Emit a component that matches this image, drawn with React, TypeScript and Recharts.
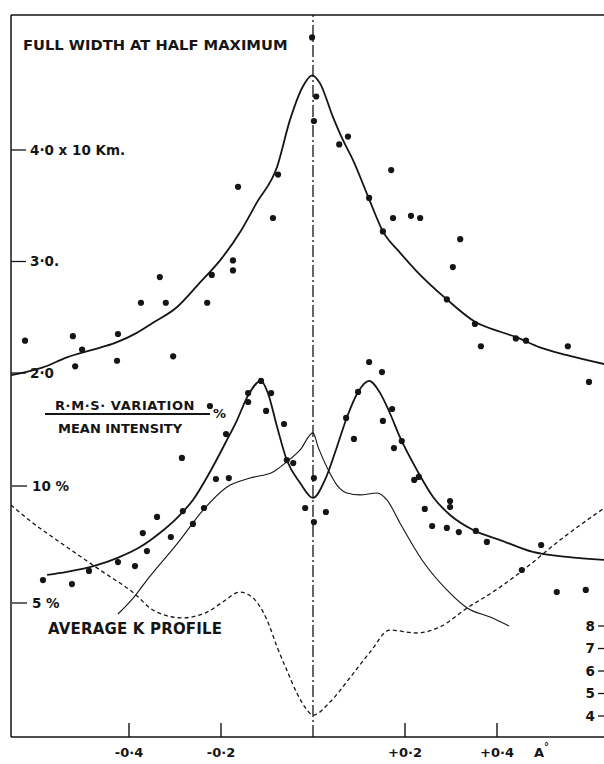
import React from 'react';
import { ComposedChart, Line, Scatter, XAxis, YAxis, ReferenceLine } from 'recharts';

// ---------- axis ticks ----------
const xTicks = [-0.4, -0.2, 0.2, 0.4];
const xTickLabels = ['-0·4', '-0·2', '+0·2', '+0·4'];
const fwhmTicks = [2, 3, 4];
const fwhmTickLabels = ['2·0', '3·0.', '4·0 x 10 Km.'];
const rmsTicks = [5, 10];
const rmsTickLabels = ['5 %', '10 %'];
const kTicks = [4, 5, 6, 7, 8];
const kTickLabels = ['4', '5', '6', '7', '8'];

// ---------- data: [wavelength offset (A), value] ----------
const fwhmCurve = [
  [-0.656, 1.98], [-0.587, 2.05], [-0.535, 2.14], [-0.478, 2.21], [-0.43, 2.27], [-0.383, 2.36],
  [-0.348, 2.45], [-0.296, 2.59], [-0.246, 2.81], [-0.202, 3.01], [-0.159, 3.26], [-0.122, 3.53],
  [-0.078, 3.85], [-0.05, 4.27], [-0.022, 4.57], [-0.002, 4.67], [0.015, 4.6], [0.043, 4.3],
  [0.065, 4.09], [0.087, 3.91], [0.12, 3.58], [0.152, 3.27], [0.189, 3.08], [0.226, 2.91],
  [0.291, 2.66], [0.352, 2.46], [0.407, 2.37], [0.443, 2.32], [0.493, 2.23], [0.552, 2.16], [0.633, 2.08],
];
const fwhmDots = [
  [-0.002, 5.01], [0.007, 4.48], [0.002, 4.26], [-0.076, 3.78], [-0.163, 3.67], [0.057, 4.05],
  [0.076, 4.12], [0.17, 3.82], [0.122, 3.57], [-0.087, 3.39], [-0.174, 3.01], [-0.174, 2.92],
  [-0.22, 2.88], [-0.23, 2.63], [-0.333, 2.86], [-0.374, 2.63], [-0.32, 2.63], [-0.304, 2.15],
  [-0.424, 2.35], [-0.426, 2.11], [-0.502, 2.21], [-0.522, 2.33], [-0.517, 2.06], [-0.626, 2.29],
  [0.174, 3.39], [0.213, 3.41], [0.233, 3.39], [0.152, 3.27], [0.32, 3.2], [0.304, 2.95],
  [0.291, 2.66], [0.352, 2.44], [0.365, 2.24], [0.441, 2.31], [0.463, 2.29], [0.554, 2.24], [0.6, 1.92],
];
const rmsCurve = [
  [-0.578, 6.2], [-0.535, 6.33], [-0.47, 6.62], [-0.426, 6.92], [-0.376, 7.39], [-0.333, 7.99],
  [-0.296, 8.63], [-0.261, 9.4], [-0.224, 10.6], [-0.187, 11.97], [-0.165, 12.82], [-0.143, 13.8],
  [-0.113, 14.49], [-0.098, 13.97], [-0.078, 12.52], [-0.057, 11.11], [-0.028, 10.13], [0, 9.49],
  [0.026, 10.26], [0.052, 11.67], [0.074, 12.95], [0.098, 14.02], [0.122, 14.49], [0.146, 13.97],
  [0.167, 13.12], [0.189, 12.09], [0.226, 10.68], [0.261, 9.53], [0.298, 8.76], [0.348, 8.12],
  [0.407, 7.69], [0.478, 7.18], [0.552, 6.97], [0.633, 6.84],
];
const rmsDots = [
  [-0.587, 5.98], [-0.524, 5.81], [-0.487, 6.37], [-0.424, 6.75], [-0.387, 6.58], [-0.37, 7.99],
  [-0.361, 7.22], [-0.339, 8.68], [-0.309, 7.82], [-0.283, 8.93], [-0.261, 8.38], [-0.237, 9.06],
  [-0.285, 11.2], [-0.211, 10.3], [-0.183, 10.34], [-0.189, 12.22], [-0.224, 13.42], [-0.141, 13.97],
  [-0.141, 13.59], [-0.113, 14.49], [-0.091, 13.97], [-0.102, 13.21], [-0.063, 12.65], [-0.057, 11.11],
  [-0.043, 10.98], [0.002, 10.34], [-0.017, 9.06], [0.028, 8.89], [0.002, 8.46], [0.072, 12.91],
  [0.089, 12.01], [0.098, 14.02], [0.122, 15.3], [0.15, 14.87], [0.172, 13.29], [0.152, 12.78],
  [0.176, 11.62], [0.193, 11.92], [0.22, 10.26], [0.23, 10.39], [0.243, 9.02], [0.259, 8.29],
  [0.291, 8.21], [0.298, 9.36], [0.298, 9.1], [0.317, 8.03], [0.354, 8.08], [0.378, 7.61],
  [0.496, 7.48], [0.454, 6.41], [0.53, 5.47], [0.593, 5.56],
];
const kProfileLine = [
  [-0.424, 4.53], [-0.391, 5.21], [-0.361, 5.98], [-0.289, 7.69], [-0.239, 8.97], [-0.187, 9.96],
  [-0.137, 10.34], [-0.087, 10.6], [-0.057, 11.03], [-0.028, 11.54], [0, 12.27], [0.011, 11.67],
  [0.03, 10.81], [0.052, 10.04], [0.074, 9.7], [0.102, 9.62], [0.139, 9.7], [0.161, 9.4],
  [0.189, 8.42], [0.237, 6.84], [0.291, 5.56], [0.335, 4.79], [0.385, 4.4], [0.426, 4.02],
];
const dashedProfile = [
  [-0.657, 13.38], [-0.609, 12.58], [-0.535, 11.51], [-0.463, 10.49], [-0.387, 9.42], [-0.348, 8.71],
  [-0.285, 8.36], [-0.23, 8.62], [-0.196, 9.07], [-0.159, 9.51], [-0.13, 9.24], [-0.1, 8.27],
  [-0.078, 7.07], [-0.057, 6.04], [-0.035, 5.02], [-0.013, 4.27], [0, 4.04], [0.037, 4.62],
  [0.08, 5.69], [0.124, 6.84], [0.167, 7.82], [0.226, 7.69], [0.276, 7.96], [0.335, 8.8],
  [0.391, 9.51], [0.454, 10.44], [0.537, 11.82], [0.633, 13.24],
];

const X_MIN = -0.6565;
const X_MAX = 0.6326;
const RIGHT_TICK_START = 0.6196;

const pts = (a: number[][]) => a.map(([x, y]) => ({ x, y }));

const FONT = '"DejaVu Sans", "Liberation Sans", sans-serif';
const INK = '#151515';

const LeftTick = (labels: string[], ticks: number[]) => (p: any) => {
  const i = ticks.indexOf(p.payload.value);
  return (
    <text x={p.x} y={p.y} dy="0.36em" textAnchor="start" fontFamily={FONT} fontWeight="bold" fontSize={13.5} fill={INK}>
      {labels[i]}
    </text>
  );
};
const BottomTick = (p: any) => {
  const i = xTicks.indexOf(p.payload.value);
  const last = i === xTicks.length - 1;
  return (
    <g>
      <line x1={p.x} x2={p.x} y1={p.y} y2={p.y - 14} stroke={INK} strokeWidth={1.4} />
      <text x={p.x} y={p.y + 20} textAnchor="middle" fontFamily={FONT} fontWeight="bold" fontSize={13} fill={INK}>
        {xTickLabels[i]}
      </text>
      {last && (
        <text x={p.x + 37} y={p.y + 20} textAnchor="start" fontFamily={FONT} fontWeight="bold" fontSize={13} fill={INK}>
          A<tspan dy={-7} fontSize={10}>°</tspan>
        </text>
      )}
    </g>
  );
};

const Dot = (p: any) => <circle cx={p.cx} cy={p.cy} r={3.1} fill={INK} />;

const labelStyle = (left: number, top: number, size: number, spacing = 0): React.CSSProperties => ({
  position: 'absolute',
  left,
  top,
  fontFamily: FONT,
  fontWeight: 'bold',
  fontSize: size,
  lineHeight: 1,
  letterSpacing: spacing,
  color: INK,
  whiteSpace: 'nowrap',
  pointerEvents: 'none',
});

const Annotations = () => (
  <>
    <div style={labelStyle(23, 38.1, 14.7)}>FULL WIDTH AT HALF MAXIMUM</div>
    <div style={labelStyle(55, 398.5, 13, 0.6)}>R·M·S· VARIATION</div>
    <div style={{ position: 'absolute', left: 45, top: 413.4, width: 165, height: 1.2, background: INK }} />
    <div style={labelStyle(213, 407, 13)}>%</div>
    <div style={labelStyle(58, 421.5, 13)}>MEAN INTENSITY</div>
    <div style={labelStyle(48, 622.3, 15, 0.18)}>AVERAGE K PROFILE</div>
  </>
);

export default function App() {
  return (
    <div style={{ position: 'absolute', left: 0, top: 0, width: 604, height: 764, background: '#fff', overflow: 'hidden' }}>
      <ComposedChart width={604} height={764} margin={{ top: 15, right: 0, bottom: 0, left: 11 }}>
        <XAxis
          xAxisId="x"
          type="number"
          dataKey="x"
          domain={[X_MIN, X_MAX]}
          allowDataOverflow
          ticks={xTicks}
          interval={0}
          height={27}
          tickSize={0}
          tickMargin={0}
          tickLine={false}
          tick={BottomTick}
          axisLine={{ stroke: INK, strokeWidth: 1.5 }}
        />
        <YAxis
          yAxisId="fwhm"
          orientation="left"
          mirror
          width={1}
          type="number"
          dataKey="y"
          domain={[-1.2646, 5.2108]}
          allowDataOverflow
          ticks={fwhmTicks}
          interval={0}
          tickSize={15}
          tickMargin={4}
          tickLine={{ stroke: INK, strokeWidth: 1.3 }}
          tick={LeftTick(fwhmTickLabels, fwhmTicks)}
          axisLine={{ stroke: INK, strokeWidth: 1.5 }}
        />
        <YAxis
          yAxisId="rms"
          orientation="left"
          mirror
          width={1}
          type="number"
          dataKey="y"
          domain={[-0.726, 30.128]}
          allowDataOverflow
          ticks={rmsTicks}
          interval={0}
          tickSize={15}
          tickMargin={5}
          tickLine={{ stroke: INK, strokeWidth: 1.3 }}
          tick={LeftTick(rmsTickLabels, rmsTicks)}
          axisLine={false}
        />
        <YAxis yAxisId="k" hide type="number" dataKey="y" domain={[3.067, 35.156]} allowDataOverflow />
        <ReferenceLine xAxisId="x" yAxisId="fwhm" y={5.2108} stroke={INK} strokeWidth={1.5} ifOverflow="visible" />
        <ReferenceLine xAxisId="x" yAxisId="fwhm" x={0} stroke={INK} strokeWidth={1.3} strokeDasharray="12 3 2 3" />
        {kTicks.map((v, i) => (
          <ReferenceLine
            key={v}
            xAxisId="x"
            yAxisId="k"
            segment={[{ x: RIGHT_TICK_START, y: v }, { x: X_MAX, y: v }]}
            stroke={INK}
            strokeWidth={1.3}
            ifOverflow="visible"
            label={{ value: kTickLabels[i], position: 'left', offset: 3, fill: INK, fontSize: 13.5, fontWeight: 'bold', fontFamily: FONT }}
          />
        ))}
        <Line xAxisId="x" yAxisId="k" data={pts(dashedProfile)} dataKey="y" type="monotone" stroke={INK} strokeWidth={1.3} strokeDasharray="4 3" dot={false} activeDot={false} isAnimationActive={false} />
        <Line xAxisId="x" yAxisId="rms" data={pts(kProfileLine)} dataKey="y" type="monotone" stroke={INK} strokeWidth={1.1} dot={false} activeDot={false} isAnimationActive={false} />
        <Line xAxisId="x" yAxisId="fwhm" data={pts(fwhmCurve)} dataKey="y" type="monotone" stroke={INK} strokeWidth={1.8} dot={false} activeDot={false} isAnimationActive={false} />
        <Line xAxisId="x" yAxisId="rms" data={pts(rmsCurve)} dataKey="y" type="monotone" stroke={INK} strokeWidth={1.8} dot={false} activeDot={false} isAnimationActive={false} />
        <Scatter xAxisId="x" yAxisId="fwhm" data={pts(fwhmDots)} shape={Dot} isAnimationActive={false} />
        <Scatter xAxisId="x" yAxisId="rms" data={pts(rmsDots)} shape={Dot} isAnimationActive={false} />
      </ComposedChart>
      <Annotations />
    </div>
  );
}
